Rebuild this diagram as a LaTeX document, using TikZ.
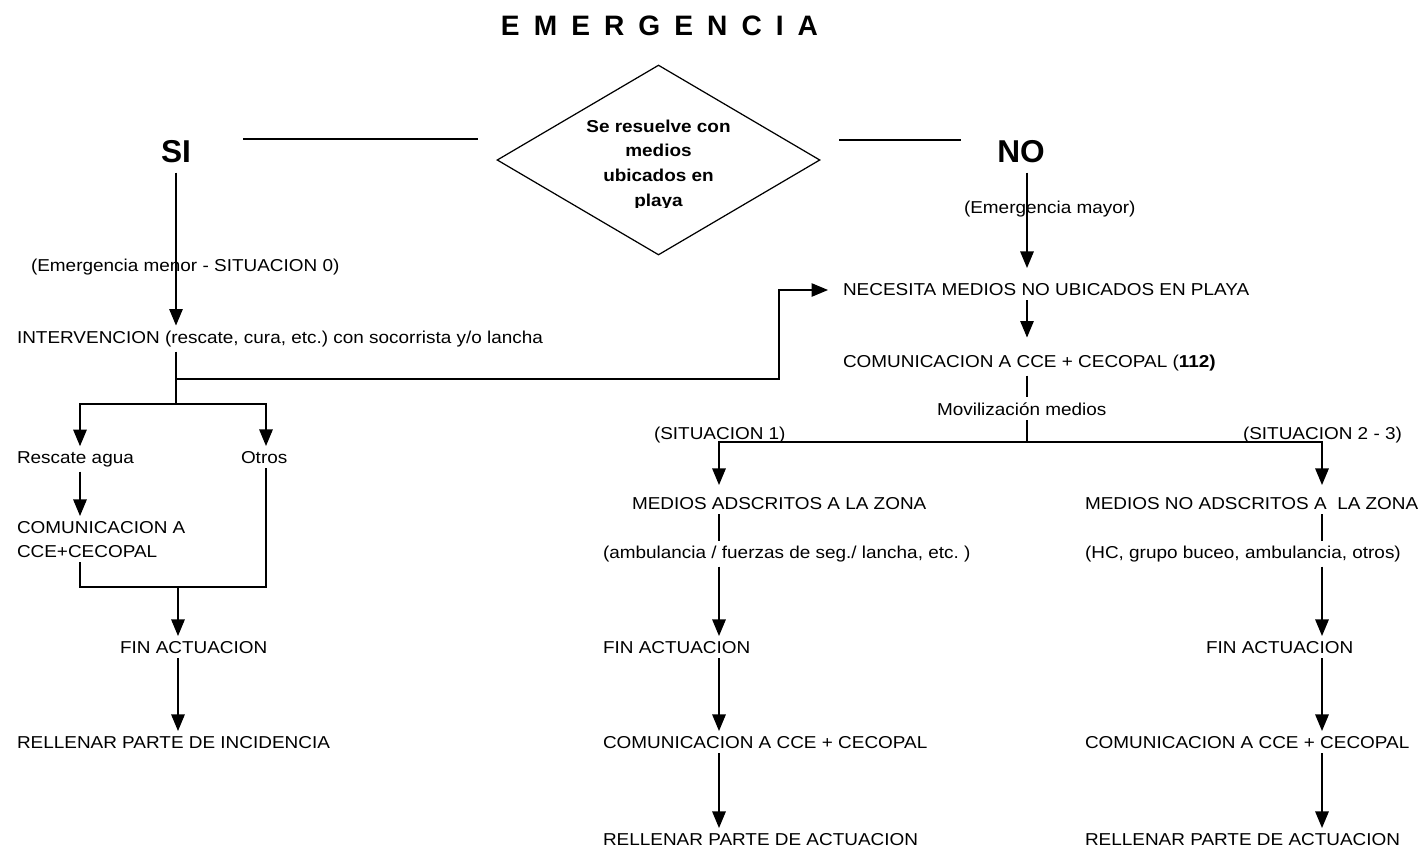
\documentclass[tikz,border=0pt]{standalone}
\usepackage{fontspec}
\setmainfont{Liberation Sans}[FakeStretch=1.1]
\newfontfamily\headfont{Liberation Sans}
\usetikzlibrary{arrows.meta}
\usetikzlibrary{shapes.geometric}
\frenchspacing

\begin{document}
\begin{tikzpicture}[x=0.02cm,y=-0.02cm,line width=0.7pt,>={Triangle[length=0.33cm,width=0.27cm]},
    txt/.style={anchor=base west, inner sep=2.5pt, font=\fontsize{9.8}{12}\selectfont},
    answer/.style={anchor=base, inner sep=5.5pt, font=\headfont\bfseries\fontsize{18}{21}\selectfont}]

    \useasboundingbox (0,0) rectangle (1425,849);

    % Title and decision
    \node [anchor=base, inner sep=0pt, font=\headfont\bfseries\fontsize{16}{19}\selectfont] (title) at (659.5,35) {\spaceskip=0.5em E M E R G E N C I A};
    \node [draw, diamond, minimum width=6.46cm, minimum height=3.8cm, inner sep=0pt] (dec) at (658.5,160) {};
    \begin{scope}
        \clip (480,60) rectangle (840,207.5);
        \node [align=center, inner sep=0pt, font=\bfseries\fontsize{9.8}{14.2}\selectfont] (decTxt) at (658.5,165) {Se resuelve con\\medios\\ubicados en\\playa};
    \end{scope}
    \node [answer] (SI) at (176,162) {SI};
    \node [answer] (NO) at (1021,162) {NO};

    % Left branch
    \node [txt] (menor) at (26,271) {(Emergencia menor - SITUACION 0)};
    \node [txt] (interv) at (12,343) {INTERVENCION (rescate, cura, etc.) con socorrista y/o lancha};
    \node [txt] (rescate) at (12,463) {Rescate agua};
    \node [txt] (otros) at (236,463) {Otros};
    \node [txt] (comA) at (12,533) {COMUNICACION A};
    \node [txt] (comB) at (12,557) {CCE+CECOPAL};
    \node [txt] (finL) at (115,653) {FIN ACTUACION};
    \node [txt] (incid) at (12,748) {RELLENAR PARTE DE INCIDENCIA};

    % Right branch
    \node [txt] (mayor) at (959,213) {(Emergencia mayor)};
    \node [txt] (necesita) at (838,295) {NECESITA MEDIOS NO UBICADOS EN PLAYA};
    \node [txt] (com112) at (838,367) {COMUNICACION A CCE + CECOPAL (\textbf{112)}};
    \node [txt] (movil) at (932,415) {Movilización medios};
    \node [txt] (sit1) at (649,439) {(SITUACION 1)};
    \node [txt] (sit23) at (1238,439) {(SITUACION 2 - 3)};
    \node [txt] (adsc) at (627,509) {MEDIOS ADSCRITOS A LA ZONA};
    \node [txt] (noAdsc) at (1080,509) {MEDIOS NO ADSCRITOS A\ \ LA ZONA};
    \node [txt] (ambul) at (598,558) {(ambulancia / fuerzas de seg./ lancha, etc. )};
    \node [txt] (hc) at (1080,558) {(HC, grupo buceo, ambulancia, otros)};
    \node [txt] (finM) at (598,653) {FIN ACTUACION};
    \node [txt] (finR) at (1201,653) {FIN ACTUACION};
    \node [txt] (comM) at (598,748) {COMUNICACION A CCE + CECOPAL};
    \node [txt] (comR) at (1080,748) {COMUNICACION A CCE + CECOPAL};
    \node [txt] (rellM) at (598,845) {RELLENAR PARTE DE ACTUACION};
    \node [txt] (rellR) at (1080,845) {RELLENAR PARTE DE ACTUACION};

    % Junctions
    \coordinate (yesL) at (243,139);
    \coordinate (yesR) at (478,139);
    \coordinate (noL) at (839,140);
    \coordinate (noR) at (961,140);
    \coordinate (link) at (176,379);
    \coordinate (turn) at (779,290);
    \coordinate (split) at (176,404);
    \coordinate (colRes) at (80,404);
    \coordinate (colOtr) at (266,404);
    \coordinate (merge) at (178,587);
    \coordinate (colNO) at (1027,442);
    \coordinate (colS1) at (719,442);
    \coordinate (colS2) at (1322,442);

    % Connections
    \draw (yesL) -- (yesR);
    \draw (noL) -- (noR);
    \draw [->] (SI) -- (SI |- interv.north);
    \draw (interv.south -| SI) -- (split);
    \draw [->, shorten >=0.2cm] (link) -| (turn) -- (turn -| necesita.west);
    \draw [->] (split) -| (rescate.north -| colRes);
    \draw [->] (split) -| (otros.north -| colOtr);
    \draw [->] (rescate.south -| colRes) -- (comA.north -| colRes);
    \draw (comB.south -| colRes) |- (merge) -| (otros.south -| colOtr);
    \draw [->] (merge) -- (merge |- finL.north);
    \draw [->] (finL.south -| merge) -- (incid.north -| merge);

    \draw [->, shorten >=0.2cm] (NO.south -| colNO) -- (necesita.north -| colNO);
    \draw [->, shorten >=0.24cm] (necesita.south -| colNO) -- (com112.north -| colNO);
    \draw (com112.south -| colNO) -- (movil.north -| colNO);
    \draw (movil.south -| colNO) -- (colNO);
    \draw [->, shorten >=0.14cm] (colNO) -| (adsc.north -| colS1);
    \draw [->, shorten >=0.14cm] (colNO) -| (noAdsc.north -| colS2);
    \draw (adsc.south -| colS1) -- (ambul.north -| colS1);
    \draw [->] (ambul.south -| colS1) -- (finM.north -| colS1);
    \draw [->] (finM.south -| colS1) -- (comM.north -| colS1);
    \draw [->] (comM.south -| colS1) -- (rellM.north -| colS1);
    \draw (noAdsc.south -| colS2) -- (hc.north -| colS2);
    \draw [->] (hc.south -| colS2) -- (finR.north -| colS2);
    \draw [->] (finR.south -| colS2) -- (comR.north -| colS2);
    \draw [->] (comR.south -| colS2) -- (rellR.north -| colS2);

\end{tikzpicture}
\end{document}
